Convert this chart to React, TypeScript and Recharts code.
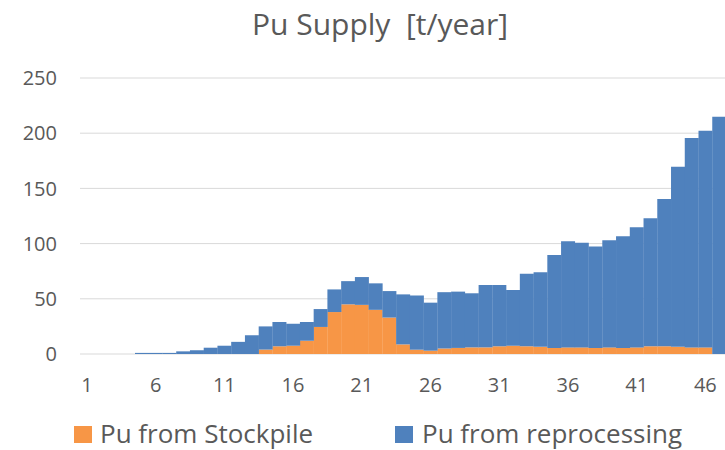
import { BarChart, Bar, XAxis, YAxis, CartesianGrid } from "recharts";

const years = [
  1, 2, 3, 4, 5, 6, 7, 8, 9, 10, 11, 12, 13, 14, 15, 16, 17, 18, 19, 20, 21, 22, 23, 24,
  25, 26, 27, 28, 29, 30, 31, 32, 33, 34, 35, 36, 37, 38, 39, 40, 41, 42, 43, 44, 45, 46, 47,
];

const fromStockpile = [
  0, 0, 0, 0, 0, 0, 0, 0, 0, 0, 0, 0, 0, 4, 7, 7.5, 12, 24.5, 38, 45, 44.5, 40, 33, 8.7,
  3.9, 3, 5, 5.5, 6, 6, 7, 7.5, 7, 6.5, 5.5, 6, 6, 5.5, 6, 5.5, 6, 7, 7, 6.5, 6, 6, 0,
];

const fromReprocessing = [
  0, 0, 0, 0, 1, 1, 1, 2.4, 3.4, 5.7, 7.5, 11, 17, 21, 22, 19.9, 17, 16.2, 20.5, 21, 25.2, 24, 24, 45.3,
  49.1, 43.5, 51, 51, 49, 56.5, 55.5, 50.5, 65.7, 67.5, 84.1, 96.2, 94.7, 91.9, 97, 101.2, 108.8, 115.9, 133.3, 163.2, 189.6, 196.2, 214.8,
];

const yTicks = [0, 50, 100, 150, 200, 250];

const data = years.map((year, i) => ({
  year,
  stockpile: fromStockpile[i],
  reprocessing: fromReprocessing[i],
}));

const ORANGE = "#F79646";
const BLUE = "#4F81BD";
const TEXT = "#595959";
const FONT = "'Open Sans', sans-serif";

const App = () => {
  return (
    <div
      style={{
        position: "fixed",
        top: 0,
        left: 0,
        width: 725,
        height: 450,
        overflow: "hidden",
        background: "#fff",
        fontFamily: FONT,
        color: TEXT,
      }}
    >
      <div
        style={{
          position: "absolute",
          top: 9,
          left: 380,
          transform: "translateX(-50%)",
          fontSize: 30,
          lineHeight: "30px",
          whiteSpace: "pre",
        }}
      >
        {"Pu Supply  [t/year]"}
      </div>

      <BarChart
        width={740}
        height={450}
        data={data}
        barCategoryGap={0}
        margin={{ top: 78, right: 14, left: 0, bottom: 66 }}
      >
        <CartesianGrid vertical={false} stroke="#d9d9d9" strokeWidth={1} />
        <XAxis
          dataKey="year"
          interval={4}
          axisLine={false}
          tickLine={false}
          tickSize={0}
          tickMargin={24}
          height={30}
          tick={{ fontSize: 20, fill: TEXT, fontFamily: FONT }}
        />
        <YAxis
          domain={[0, 250]}
          ticks={yTicks}
          width={80}
          axisLine={false}
          tickLine={false}
          tickSize={0}
          tickMargin={23}
          tick={{ fontSize: 20, fill: TEXT, fontFamily: FONT }}
        />
        <Bar dataKey="stockpile" stackId="pu" fill={ORANGE} isAnimationActive={false} />
        <Bar dataKey="reprocessing" stackId="pu" fill={BLUE} isAnimationActive={false} />
      </BarChart>

      {/* legend */}
      <div style={{ position: "absolute", left: 74, top: 426, width: 18, height: 17, background: ORANGE }} />
      <div style={{ position: "absolute", left: 100, top: 420, fontSize: 26, lineHeight: "26px", whiteSpace: "pre" }}>
        Pu from Stockpile
      </div>
      <div style={{ position: "absolute", left: 395, top: 426, width: 18, height: 17, background: BLUE }} />
      <div style={{ position: "absolute", left: 422, top: 420, fontSize: 26, lineHeight: "26px", whiteSpace: "pre" }}>
        Pu from reprocessing
      </div>
    </div>
  );
};

export default App;
